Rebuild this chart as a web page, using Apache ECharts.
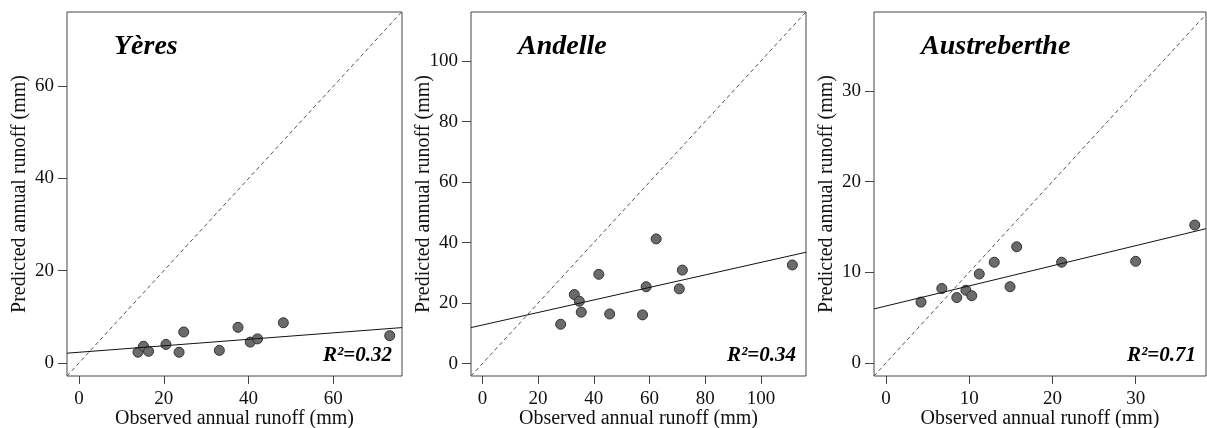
<!DOCTYPE html>
<html>
<head>
<meta charset="utf-8">
<script src="https://cdn.jsdelivr.net/npm/echarts@6/dist/echarts.min.js"></script>
<style>html,body{margin:0;padding:0;background:#fff}#c{width:1207px;height:428px}</style>
</head>
<body>
<div id="c"></div>
<script>
// ---- data ----
var panelNames = ['Yères', 'Andelle', 'Austreberthe'];
var r2Labels = ['R²=0.32', 'R²=0.34', 'R²=0.71'];

var yeresObs  = [13.9, 15.2, 16.4, 20.5, 23.6, 24.7, 33.1, 37.5, 40.4, 42.1, 48.2, 73.3];
var yeresPred = [2.3, 3.6, 2.5, 4.0, 2.3, 6.7, 2.7, 7.7, 4.5, 5.2, 8.7, 5.9];

var andelleObs  = [28.1, 33.0, 34.8, 35.5, 41.8, 45.7, 57.5, 58.8, 62.4, 70.7, 71.8, 111.3];
var andellePred = [13.0, 22.8, 20.6, 17.0, 29.5, 16.4, 16.1, 25.4, 41.2, 24.7, 30.9, 32.6];

var austObs  = [4.2, 6.7, 8.5, 9.6, 10.3, 11.2, 13.0, 14.9, 15.7, 21.1, 30.0, 37.1];
var austPred = [6.7, 8.2, 7.2, 8.0, 7.4, 9.8, 11.1, 8.4, 12.8, 11.1, 11.2, 15.2];

// fitted regression line end points [x, y]
var yeresFit = [[-2.85, 2.1], [76.2, 7.65]];
var andelleFit = [[-4.1, 11.9], [116.2, 36.8]];
var austFit = [[-1.45, 5.95], [38.45, 14.8]];

// axis extents and ticks
var xRanges = [[-2.85, 76.2], [-4.1, 116.2], [-1.45, 38.45]];
var yRanges = [[-2.85, 76.1], [-4.1, 116.2], [-1.45, 38.7]];
var xTicks = [[0, 20, 40, 60], [0, 20, 40, 60, 80, 100], [0, 10, 20, 30]];
var yTicks = [[0, 20, 40, 60], [0, 20, 40, 60, 80, 100], [0, 10, 20, 30]];

var xName = 'Observed annual runoff (mm)';
var yName = 'Predicted annual runoff (mm)';

// ---- chart ----
var obsAll = [yeresObs, andelleObs, austObs];
var predAll = [yeresPred, andellePred, austPred];
var fitAll = [yeresFit, andelleFit, austFit];

var grids = [
  {left: 67, top: 12, width: 335, height: 364},
  {left: 471, top: 12, width: 335, height: 364},
  {left: 874, top: 12, width: 332, height: 364}
];
var FONT = '"Liberation Serif", serif';
var TXT = '#111';

var option = {
  animation: false,
  backgroundColor: '#ffffff',
  grid: grids.map(function (g) {
    return Object.assign({show: true, borderColor: '#444', borderWidth: 1, backgroundColor: 'transparent',
      containLabel: false, outerBoundsMode: 'none'}, g);
  }),
  title: panelNames.map(function (n, i) {
    return {
      text: n, left: grids[i].left + 42, top: 28,
      textStyle: {fontFamily: FONT, fontStyle: 'italic', fontWeight: 'bold', fontSize: 28, color: '#000'}
    };
  }),
  graphic: r2Labels.map(function (t, i) {
    return {
      type: 'text', right: 1207 - (grids[i].left + grids[i].width) + 10, top: 345,
      style: {text: t, font: 'italic bold 21px "Liberation Serif"', fill: '#000'}
    };
  }),
  xAxis: xRanges.map(function (r, i) {
    return {
      type: 'value', gridIndex: i, min: r[0], max: r[1],
      axisLine: {show: false, onZero: false},
      splitLine: {show: false},
      axisTick: {show: true, length: 8, inside: false, customValues: xTicks[i], lineStyle: {color: '#444'}},
      axisLabel: {customValues: xTicks[i], margin: 14, fontFamily: FONT, fontSize: 19, color: TXT},
      name: xName, nameLocation: 'middle', nameGap: 33, nameMoveOverlap: false,
      nameTextStyle: {fontFamily: FONT, fontSize: 20, color: TXT}
    };
  }),
  yAxis: yRanges.map(function (r, i) {
    return {
      type: 'value', gridIndex: i, min: r[0], max: r[1],
      axisLine: {show: false, onZero: false},
      splitLine: {show: false},
      axisTick: {show: true, length: 9, inside: false, customValues: yTicks[i], lineStyle: {color: '#444'}},
      axisLabel: {customValues: yTicks[i], margin: 13, fontFamily: FONT, fontSize: 19, color: TXT},
      name: yName, nameLocation: 'middle', nameGap: 37, nameMoveOverlap: false,
      nameTextStyle: {fontFamily: FONT, fontSize: 20, color: TXT}
    };
  }),
  series: []
};

for (var i = 0; i < 3; i++) {
  var lo = Math.min(xRanges[i][0], yRanges[i][0]);
  var hi = Math.min(xRanges[i][1], yRanges[i][1]);
  option.series.push({
    type: 'line', xAxisIndex: i, yAxisIndex: i, symbol: 'none', silent: true,
    data: [[lo, lo], [hi, hi]],
    lineStyle: {color: '#555', width: 1, type: [4, 3]}
  });
  option.series.push({
    type: 'line', xAxisIndex: i, yAxisIndex: i, symbol: 'none', silent: true,
    data: fitAll[i],
    lineStyle: {color: '#111', width: 1}
  });
  option.series.push({
    type: 'scatter', xAxisIndex: i, yAxisIndex: i, symbolSize: 10,
    data: obsAll[i].map(function (v, k) { return [v, predAll[i][k]]; }),
    itemStyle: {color: '#6b6b6b', borderColor: '#333', borderWidth: 1, opacity: 1}
  });
}

var chart = echarts.init(document.getElementById('c'), null, {renderer: 'canvas'});
chart.setOption(option);
</script>
</body>
</html>
